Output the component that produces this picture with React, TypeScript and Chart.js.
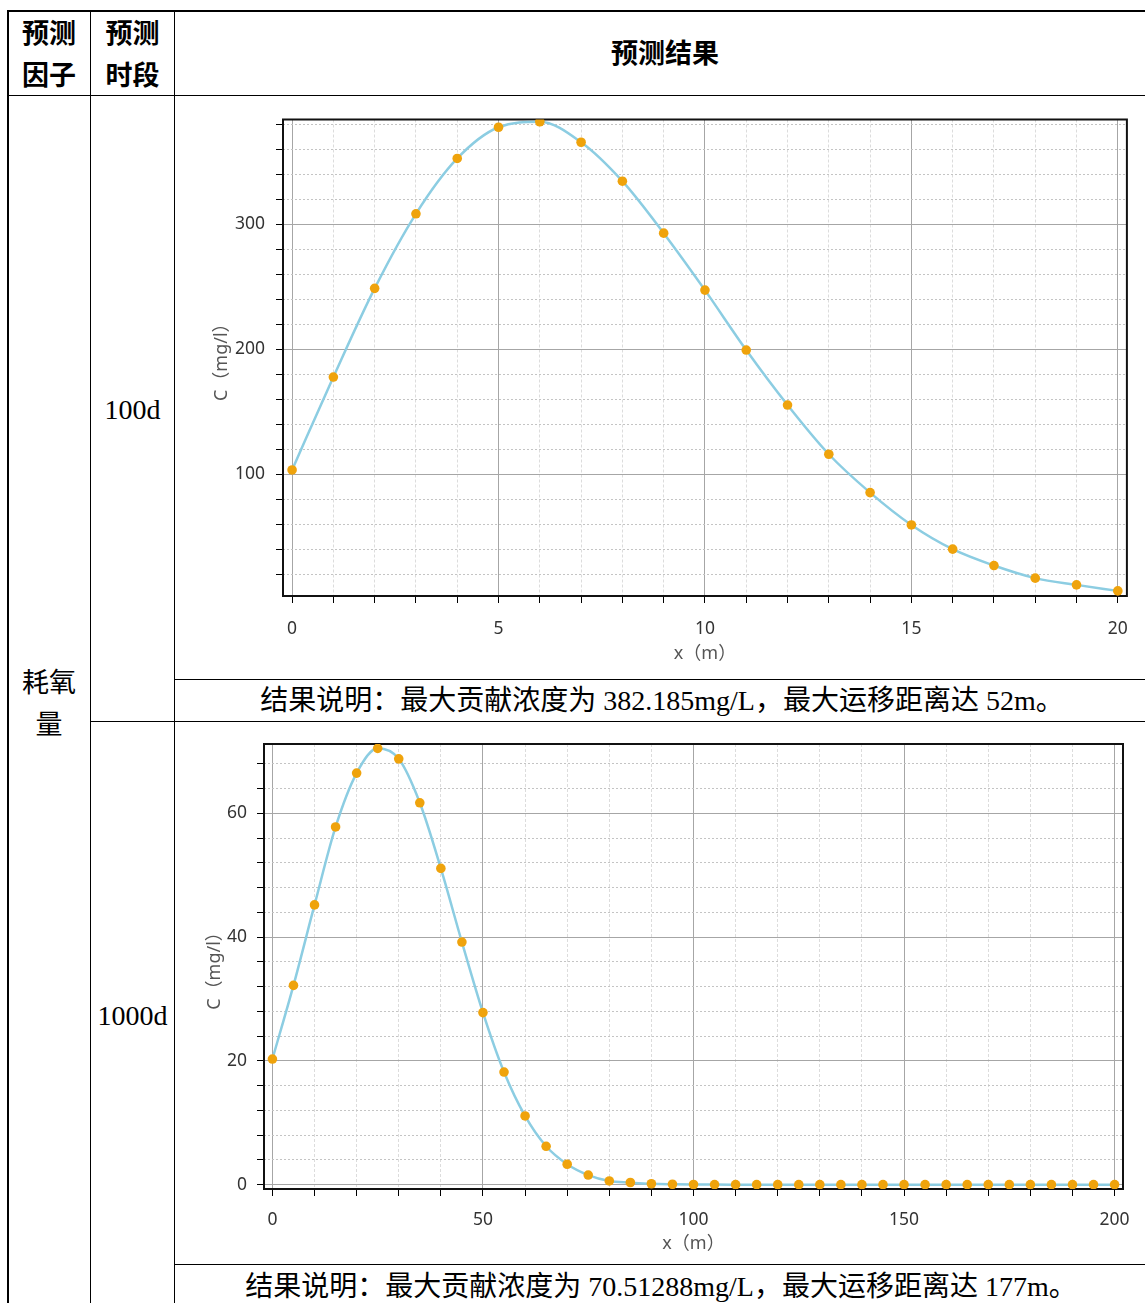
import React, { useEffect, useRef } from "react";
import { Chart, registerables } from "chart.js";

Chart.register(...registerables);

// ---------- data ----------
const DIST_100D = [0, 1, 2, 3, 4, 5, 6, 7, 8, 9, 10, 11, 12, 13, 14, 15, 16, 17, 18, 19, 20];
const CONC_100D = [
  103.4, 177.8, 248.8, 308.5, 352.8, 377.8, 382.2, 365.8, 334.6, 293.0, 247.4,
  199.4, 155.4, 116.0, 85.3, 59.4, 40.0, 26.9, 16.8, 11.4, 6.6,
];

const DIST_1000D = [
  0, 5, 10, 15, 20, 25, 30, 35, 40, 45, 50, 55, 60, 65, 70, 75, 80, 85, 90, 95, 100,
  105, 110, 115, 120, 125, 130, 135, 140, 145, 150, 155, 160, 165, 170, 175, 180, 185, 190, 195, 200,
];
const CONC_1000D = [
  20.3, 32.2, 45.2, 57.8, 66.5, 70.5, 68.8, 61.7, 51.1, 39.2, 27.8, 18.2, 11.1, 6.2, 3.3, 1.55,
  0.6, 0.35, 0.15, 0.07, 0.03, 0.01, 0, 0, 0, 0, 0, 0, 0, 0, 0, 0, 0, 0, 0, 0, 0, 0, 0, 0, 0,
];

// labelled (major) tick values
const X_TICKS_100D = [0, 5, 10, 15, 20];
const Y_TICKS_100D = [100, 200, 300];
const X_TICKS_1000D = [0, 50, 100, 150, 200];
const Y_TICKS_1000D = [0, 20, 40, 60];

const HEADER_FACTOR = ["预测", "因子"];
const HEADER_PERIOD = ["预测", "时段"];
const HEADER_RESULT = "预测结果";
const FACTOR_NAME = ["耗氧", "量"];
const PERIOD_1 = "100d";
const PERIOD_2 = "1000d";
const CAPTION_1 = "结果说明：最大贡献浓度为 382.185mg/L，最大运移距离达 52m。";
const CAPTION_2 = "结果说明：最大贡献浓度为 70.51288mg/L，最大运移距离达 177m。";
const X_TITLE = "x（m）";
const Y_TITLE = "C（mg/l）";

// ---------- chart ----------
const TICK_FONT = { family: '"Noto Sans", "Open Sans", sans-serif', size: 17.5 };
const TITLE_FONT = { family: '"Noto Sans", "Noto Sans CJK SC", sans-serif', size: 18 };

const framePlugin = {
  id: "frame",
  beforeDatasetsDraw(chart: any) {
    const { ctx, chartArea: a } = chart;
    ctx.save();
    ctx.strokeStyle = "#111";
    ctx.lineWidth = 2;
    ctx.strokeRect(a.left, a.top, a.right - a.left, a.bottom - a.top);
    ctx.restore();
  },
};

type AxisSpec = {
  min: number;
  max: number;
  step: number;
  labels: number[];
  padding: number;
  titlePad: number;
  size: number;
  minorColor: string;
  minorDash: number[];
};

function makeAxis(spec: AxisSpec, horizontal: boolean, title: string) {
  const isMajor = (c: any) => c && c.tick && spec.labels.includes(Number(c.tick.value));
  return {
    type: "linear",
    position: horizontal ? "bottom" : "left",
    min: spec.min,
    max: spec.max,
    afterFit: (s: any) => {
      if (horizontal) s.height = spec.size;
      else s.width = spec.size;
    },
    ticks: {
      stepSize: spec.step,
      includeBounds: false,
      autoSkip: false,
      maxRotation: 0,
      minRotation: 0,
      padding: spec.padding,
      color: "#333",
      font: TICK_FONT,
      callback: (v: any) => (spec.labels.includes(Number(v)) ? String(v) : ""),
    },
    grid: {
      color: (c: any) => (isMajor(c) ? "#a6a6a6" : spec.minorColor),
      lineWidth: 1,
      drawTicks: true,
      tickLength: 7,
      tickColor: "#000",
      tickWidth: 1,
    },
    border: {
      display: false,
      dash: (c: any) => (isMajor(c) ? [] : spec.minorDash),
    },
    title: {
      display: true,
      text: title,
      color: "#555",
      font: TITLE_FONT,
      padding: horizontal ? { top: 0, bottom: spec.titlePad } : { top: spec.titlePad, bottom: 0 },
    },
  };
}

type ChartProps = {
  xs: number[];
  ys: number[];
  left: number;
  top: number;
  width: number;
  height: number;
  padTop: number;
  padRight: number;
  xAxis: AxisSpec;
  yAxis: AxisSpec;
};

function ConcChart(p: ChartProps) {
  const ref = useRef<HTMLCanvasElement>(null);
  useEffect(() => {
    const chart = new Chart(ref.current as HTMLCanvasElement, {
      type: "line",
      data: {
        datasets: [
          {
            data: p.xs.map((x, i) => ({ x, y: p.ys[i] })),
            borderColor: "#8ccde2",
            borderWidth: 2.5,
            pointBackgroundColor: "#efa30c",
            pointBorderColor: "#efa30c",
            pointBorderWidth: 0,
            pointRadius: 4.8,
            cubicInterpolationMode: "monotone",
            fill: false,
          },
        ],
      },
      options: {
        animation: false,
        responsive: false,
        events: [],
        layout: { padding: { top: p.padTop, right: p.padRight, bottom: 0, left: 0 } },
        plugins: { legend: { display: false }, tooltip: { enabled: false } },
        scales: {
          x: makeAxis(p.xAxis, true, X_TITLE),
          y: makeAxis(p.yAxis, false, Y_TITLE),
        },
      } as any,
      plugins: [framePlugin],
    });
    return () => chart.destroy();
  }, []);
  return (
    <canvas
      ref={ref}
      width={p.width}
      height={p.height}
      style={{ position: "absolute", left: p.left, top: p.top, width: p.width, height: p.height }}
    />
  );
}

// ---------- table ----------
const line = (left: number, top: number, width: number, height: number): React.CSSProperties => ({
  position: "absolute",
  left,
  top,
  width,
  height,
  background: "#000",
});

const SERIF = '"Liberation Serif", "Noto Sans CJK SC", serif';
const BOLD = '"Noto Sans CJK SC", sans-serif';

function Text(props: {
  left: number;
  top: number;
  width: number;
  bold?: boolean;
  size?: number;
  lines: string[];
}) {
  return (
    <div
      style={{
        position: "absolute",
        left: props.left,
        top: props.top,
        width: props.width,
        textAlign: "center",
        fontFamily: props.bold ? BOLD : SERIF,
        fontWeight: props.bold ? 700 : 400,
        fontSize: props.size || 27,
        lineHeight: "42px",
        whiteSpace: "nowrap",
        color: "#000",
      }}
    >
      {props.lines.map((l, i) => (
        <div key={i}>{l}</div>
      ))}
    </div>
  );
}

export default function App() {
  return (
    <div
      style={{
        position: "absolute",
        left: 0,
        top: 0,
        width: 1145,
        height: 1303,
        overflow: "hidden",
        background: "#fff",
      }}
    >
      <div style={line(7, 10, 1138, 2)} />
      <div style={line(7, 10, 2, 1293)} />
      <div style={line(90, 10, 1, 1293)} />
      <div style={line(174, 10, 1, 1293)} />
      <div style={line(7, 95, 1138, 1)} />
      <div style={line(174, 679, 971, 1)} />
      <div style={line(90, 721, 1055, 1)} />
      <div style={line(174, 1264, 971, 1)} />

      <Text left={8} top={11} width={82} bold lines={HEADER_FACTOR} />
      <Text left={91} top={11} width={83} bold lines={HEADER_PERIOD} />
      <Text left={175} top={31} width={980} bold lines={[HEADER_RESULT]} />
      <Text left={8} top={662} width={82} lines={FACTOR_NAME} />
      <Text left={91} top={389} width={83} size={28} lines={[PERIOD_1]} />
      <Text left={91} top={995} width={83} size={28} lines={[PERIOD_2]} />
      <Text left={181} top={680} width={962} size={28} lines={[CAPTION_1]} />
      <Text left={180} top={1266} width={962} size={28} lines={[CAPTION_2]} />

      <ConcChart
        xs={DIST_100D}
        ys={CONC_100D}
        left={176}
        top={98}
        width={968}
        height={580}
        padTop={20}
        padRight={16}
        xAxis={{ min: -0.22, max: 20.22, step: 1, labels: X_TICKS_100D, padding: 16, titlePad: 13, size: 82, minorColor: "#dcdcdc", minorDash: [3, 2] }}
        yAxis={{ min: 2.5, max: 384, step: 20, labels: Y_TICKS_100D, padding: 11, titlePad: 35, size: 107, minorColor: "#c4c4c4", minorDash: [2, 2] }}
      />
      <ConcChart
        xs={DIST_1000D}
        ys={CONC_1000D}
        left={176}
        top={723}
        width={968}
        height={540}
        padTop={21}
        padRight={21}
        xAxis={{ min: -2, max: 202, step: 10, labels: X_TICKS_1000D, padding: 14, titlePad: 8, size: 74, minorColor: "#dcdcdc", minorDash: [3, 2] }}
        yAxis={{ min: -0.7, max: 71.2, step: 4, labels: Y_TICKS_1000D, padding: 10, titlePad: 28, size: 88, minorColor: "#c4c4c4", minorDash: [2, 2] }}
      />
    </div>
  );
}
